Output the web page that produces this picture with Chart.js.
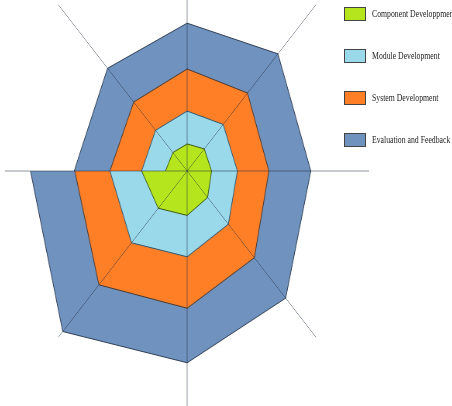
<!DOCTYPE html>
<html>
<head>
<meta charset="utf-8">
<script src="https://cdn.jsdelivr.net/npm/chart.js@4/dist/chart.umd.min.js"></script>
<style>
  html, body { margin: 0; padding: 0; background: #fff; }
  #wrap { position: relative; width: 452px; height: 406px; overflow: hidden; }
  /* the spiral is drawn as two radar halves, each shown through its own window */
  .half { position: absolute; left: 0; width: 452px; overflow: hidden; }
  #upper { top: 0; height: 171px; }
  #lower { top: 171px; height: 235px; }
  /* the original picture is squeezed horizontally, so the round radar is drawn and then narrowed */
  .half canvas { position: absolute; left: 5px; transform: scaleX(0.775); transform-origin: 0 0; }
  #radarUpper { top: -64px; }
  #radarLower { top: -235px; }
  #legend { position: absolute; left: 344px; top: 7px; margin: 0; padding: 0; list-style: none;
            font-family: "Liberation Serif", serif; font-size: 10px; color: #222; }
  #legend li { position: relative; height: 42px; white-space: nowrap; }
  #legend .box { position: absolute; left: 0; top: 0; width: 22px; height: 14px; box-sizing: border-box; border: 1px solid #444; }
  #legend .txt { position: absolute; left: 28px; top: 0; line-height: 14px; display: inline-block;
                 transform: scaleX(0.775); transform-origin: 0 50%; }
</style>
</head>
<body>
<div id="wrap">
  <div class="half" id="upper"><canvas id="radarUpper" width="470" height="470"></canvas></div>
  <div class="half" id="lower"><canvas id="radarLower" width="470" height="470"></canvas></div>
  <ul id="legend"></ul>
</div>
<script>
// 8 spokes, clockwise from the top
const axisLabels = ['1', '2', '3', '4', '5', '6', '7', '8']
const seriesNames = ['Component Developpment', 'Module Development', 'System Development', 'Evaluation and Feedback']

// the left spoke (index 6) holds where each band ends, below the axis
const componentDev = [11.5, 13.3, 13.4, 15.9, 18.9, 22.4, 25, 11.1]
const moduleDev = [25.5, 28, 27.6, 32, 36.5, 43.2, 42.4, 24.5]
const systemDev = [43.4, 46.9, 44.9, 52.2, 58.4, 68.5, 61.7, 41.5]
const evaluationFeedback = [62.9, 70.5, 67.9, 76.5, 81.6, 96.6, 86, 61.8]
// where each band starts on the left spoke, above the axis (it is a spiral)
const spiralStart = [11.9, 25, 42.4, 62]

const fillColors = ['#b5e61d', '#99d9ea', '#ff7f27', '#7092be']
const edgeColors = ['#3f5a12', '#34586e', '#4a3a30', '#2f3e55']
const LEFT = 6

function makeRadar(canvasId, upperHalf) {
  const ctx = document.getElementById(canvasId).getContext('2d')
  const series = [componentDev, moduleDev, systemDev, evaluationFeedback]

  return new Chart(ctx, {
    type: 'radar',
    data: {
      labels: axisLabels,
      datasets: series.map((values, k) => ({
        label: seriesNames[k],
        data: upperHalf ? values.map((v, i) => (i === LEFT ? spiralStart[k] : v)) : values,
        backgroundColor: fillColors[k],
        borderColor: edgeColors[k],
      })),
    },
    options: {
      responsive: false,
      animation: false,
      layout: { padding: 0 },
      elements: {
        line: { borderWidth: 1, fill: true, tension: 0 },
        point: { radius: 0, hoverRadius: 0 },
      },
      scales: {
        r: {
          min: 0,
          max: 100,
          grid: { display: false, z: 1 },
          angleLines: { display: true, color: 'rgba(30, 40, 60, 0.5)', lineWidth: 1 },
          ticks: { display: false, z: 1 },
          pointLabels: { display: false },
        },
      },
      plugins: {
        legend: { display: false },
        tooltip: { enabled: false },
      },
    },
  })
}

makeRadar('radarUpper', true)
const chart = makeRadar('radarLower', false)

// html legend built from the chart's own legend items
const legendEl = document.getElementById('legend')
Chart.defaults.plugins.legend.labels.generateLabels(chart).forEach(item => {
  const li = document.createElement('li')
  const box = document.createElement('span')
  box.className = 'box'
  box.style.background = item.fillStyle
  const txt = document.createElement('span')
  txt.className = 'txt'
  txt.textContent = item.text
  li.appendChild(box)
  li.appendChild(txt)
  legendEl.appendChild(li)
})
</script>
</body>
</html>
